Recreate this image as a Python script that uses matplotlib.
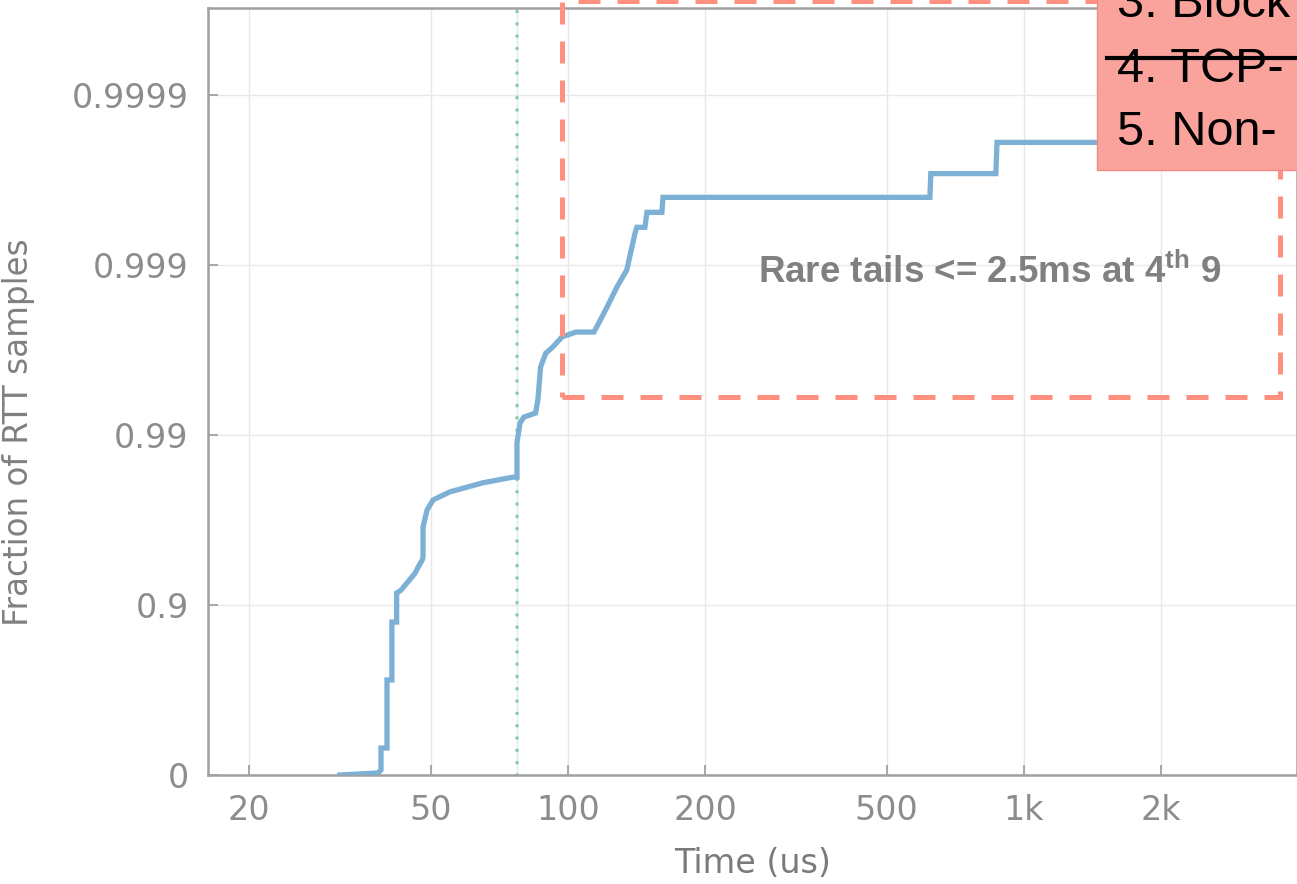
# -*- coding: utf-8 -*-
# RTT CDF on a "nines" y scale, with slide-style annotations on top

import numpy as np
import matplotlib
matplotlib.use('Agg')
import matplotlib.pyplot as plt
from matplotlib.patches import Rectangle
from matplotlib.lines import Line2D

################################################################################
# data

rtt_us = [31.6, 34.5, 38.3, 38.9, 38.9, 40.1, 40.1, 41.1, 41.1, 42.1,
          42.1, 43.0, 46.2, 46.9, 47.9, 48.1, 48.1, 49.1, 50.6, 55.1,
          65.1, 75.7, 77.3, 77.3, 78.5, 80.1, 84.9, 85.9, 87.1, 89.4,
          92.7, 97.0, 104.1, 114.0, 116.9, 121.8, 128.0, 134.6, 140.3, 141.6,
          147.5, 149.0, 160.7, 161.6, 622, 625, 868, 873, 2450, 2470,
          3972]
rtt_frac = [0.0, 0.012, 0.027, 0.065, 0.306, 0.306, 0.724, 0.724, 0.874, 0.874,
            0.915, 0.918, 0.935, 0.940, 0.9457, 0.9478, 0.9652, 0.9724, 0.9759, 0.9784,
            0.9809, 0.9823, 0.9823, 0.9889, 0.9915, 0.99216, 0.99257, 0.99378, 0.99602, 0.9967,
            0.99697, 0.99735, 0.99752, 0.99752, 0.99781, 0.99823, 0.99865, 0.99893, 0.99935, 0.9994,
            0.9994, 0.99951, 0.99951, 0.9996, 0.9996, 0.99971, 0.99971, 0.99981, 0.99981, 0.99991,
            0.99991]

marker_us = 77.3

xtick_vals = [20, 50, 100, 200, 500, 1000, 2000]
xtick_labels = ['20', '50', '100', '200', '500', '1k', '2k']
ytick_vals = [0, 0.9, 0.99, 0.999, 0.9999]
ytick_labels = ['0', '0.9', '0.99', '0.999', '0.9999']

box_lines = ['3. Block', '4. TCP-', '5. Non-']
tail_note = r'Rare tails <= 2.5ms at 4$^{\mathbf{th}}$ 9'

################################################################################

def to_nines(y):
    return -np.log10(np.clip(1 - np.asarray(y, dtype=float), 1e-12, None))

def from_nines(n):
    return 1 - 10.0 ** (-np.asarray(n, dtype=float))

plt.rcParams['mathtext.fontset'] = 'custom'
plt.rcParams['mathtext.rm'] = 'Liberation Sans:bold'
plt.rcParams['mathtext.bf'] = 'Liberation Sans:bold'

fig = plt.figure(figsize=(12.97, 8.84), dpi=100)
ax = fig.add_axes([0.1604, 0.1233, 0.8396, 0.8677])

ax.set_xscale('log')
ax.set_yscale('function', functions=(to_nines, from_nines))
ax.set_xlim(16.24, 3972)
ax.set_ylim(0, from_nines(4.512))

ax.grid(True, color='#e8e8e8', lw=1.0, zorder=0)
ax.plot(rtt_us, rtt_frac, color='#7db0d5', lw=3.8, solid_joinstyle='miter', zorder=3)

ax.axvline(marker_us, color='#d8eef0', lw=1.0, zorder=2)
ax.axvline(marker_us, color='#8dcba4', lw=2.6, linestyle=(0, (0.01, 3.4)),
           dash_capstyle='round', zorder=2)

ax.set_xticks(xtick_vals)
ax.set_xticklabels(xtick_labels)
ax.xaxis.set_minor_locator(matplotlib.ticker.NullLocator())
ax.set_yticks(ytick_vals)
ax.set_yticklabels(ytick_labels)
ax.yaxis.set_minor_locator(matplotlib.ticker.NullLocator())

ax.tick_params(axis='both', direction='in', length=7, width=1.2, color='#9a9a9a',
               labelsize=24, labelcolor='#8c8c8c')
ax.tick_params(axis='x', pad=14)
ax.tick_params(axis='y', pad=14)
for side in ['left', 'bottom', 'top', 'right']:
    ax.spines[side].set_color('#a0a0a0')
    ax.spines[side].set_linewidth(1.8)

ax.set_xlabel('Time (us)', fontsize=24, color='#7a7a7a', labelpad=14)
ax.set_ylabel('Fraction of RTT samples', fontsize=23.5, color='#808080')
ax.yaxis.set_label_coords(-0.159, 0.447)

# dashed highlight around the tail
fig.add_artist(Rectangle((0.4333, 0.5509), 0.5536, 0.448, transform=fig.transFigure,
                         fill=False, edgecolor='#ff8f7e', lw=3.6,
                         linestyle=(0, (4.4, 3.4)), zorder=5))

fig.text(0.7633, 0.6923, tail_note, fontsize=26.5, fontweight='bold',
         family='Liberation Sans', color='#808080', ha='center', va='center', zorder=6)

# pink list box, cut off by the figure edge
fig.add_artist(Rectangle((0.8458, 0.8077), 0.2, 0.3, transform=fig.transFigure,
                         facecolor='#faa39d', edgecolor='#f08a80', lw=1.0, zorder=7))
for txt, yb in zip(box_lines, [0.9808, 0.9072, 0.836]):
    fig.text(0.8612, yb, txt, fontsize=35, family='Liberation Sans', color='black',
             ha='left', va='baseline', zorder=8)
fig.add_artist(Line2D([0.8535, 1.0], [0.9344, 0.9344], transform=fig.transFigure,
                      color='black', lw=3.0, zorder=9))

fig.savefig('out.png', dpi=100)
